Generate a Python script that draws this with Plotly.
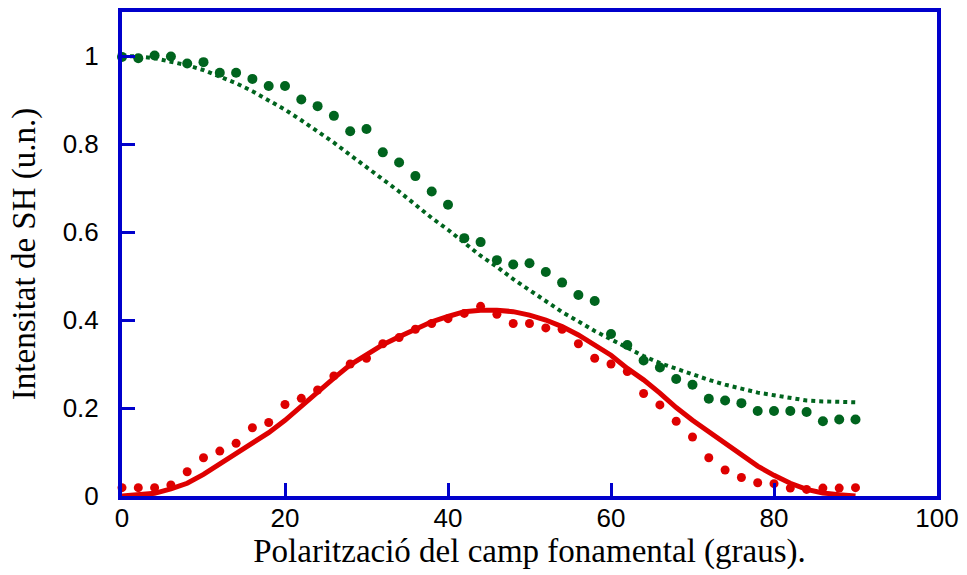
import plotly.graph_objects as go

# Polarization angle of the fundamental field (degrees)
angle = list(range(0, 91, 2))

# Measured SH intensity, parallel component (green)
sh_parallel = [0.998, 0.995, 1.001, 0.999, 0.983, 0.986, 0.962, 0.962, 0.948, 0.932,
               0.932, 0.901, 0.886, 0.864, 0.829, 0.834, 0.781, 0.758, 0.727, 0.692,
               0.662, 0.586, 0.577, 0.536, 0.526, 0.529, 0.509, 0.485, 0.457, 0.443,
               0.368, 0.343, 0.308, 0.292, 0.266, 0.253, 0.221, 0.217, 0.211, 0.193,
               0.193, 0.193, 0.191, 0.170, 0.174, 0.174]

# Measured SH intensity, crossed component (red)
sh_crossed = [0.019, 0.019, 0.019, 0.025, 0.055, 0.087, 0.102, 0.120, 0.155, 0.167,
              0.208, 0.222, 0.241, 0.273, 0.300, 0.313, 0.346, 0.360, 0.379, 0.392,
              0.403, 0.415, 0.431, 0.413, 0.392, 0.392, 0.382, 0.379, 0.346, 0.313,
              0.300, 0.283, 0.233, 0.207, 0.170, 0.134, 0.087, 0.059, 0.042, 0.030,
              0.028, 0.018, 0.015, 0.018, 0.018, 0.019]

# Theoretical curves
fit_parallel = [1.000, 0.999, 0.995, 0.988, 0.979, 0.968, 0.954, 0.938, 0.920, 0.899,
                0.878, 0.854, 0.829, 0.803, 0.775, 0.748, 0.719, 0.692, 0.662, 0.632,
                0.605, 0.576, 0.546, 0.521, 0.493, 0.468, 0.443, 0.418, 0.397, 0.375,
                0.356, 0.336, 0.318, 0.302, 0.289, 0.276, 0.264, 0.253, 0.243, 0.235,
                0.229, 0.223, 0.217, 0.215, 0.214, 0.213]

fit_crossed = [0.000, 0.002, 0.006, 0.016, 0.029, 0.049, 0.073, 0.096, 0.119, 0.144,
               0.172, 0.205, 0.238, 0.268, 0.298, 0.322, 0.344, 0.362, 0.379, 0.396,
               0.408, 0.419, 0.422, 0.422, 0.419, 0.411, 0.400, 0.385, 0.366, 0.344,
               0.320, 0.290, 0.264, 0.234, 0.201, 0.172, 0.146, 0.119, 0.092, 0.068,
               0.047, 0.029, 0.015, 0.007, 0.003, 0.000]

x_ticks = [0, 20, 40, 60, 80, 100]
y_ticks = [0, 0.2, 0.4, 0.6, 0.8, 1]

GREEN = "rgb(0,100,30)"
RED = "rgb(222,0,0)"
BLUE = "rgb(0,0,204)"

fig = go.Figure()

fig.add_trace(go.Scatter(x=angle, y=fit_crossed, mode="lines",
                         line=dict(color=RED, width=5), cliponaxis=False))
fig.add_trace(go.Scatter(x=angle, y=sh_crossed, mode="markers",
                         marker=dict(color=RED, size=9), cliponaxis=False))
fig.add_trace(go.Scatter(x=angle, y=sh_parallel, mode="markers",
                         marker=dict(color=GREEN, size=10), cliponaxis=False))
fig.add_trace(go.Scatter(x=angle, y=fit_parallel, mode="lines",
                         line=dict(color=GREEN, width=4, dash="4px,4px"),
                         cliponaxis=False))

axis_common = dict(
    showline=True, mirror=True, linecolor=BLUE, linewidth=4,
    ticks="inside", ticklen=13, tickwidth=3, tickcolor=BLUE,
    showgrid=False, zeroline=False,
    tickfont=dict(family="Liberation Sans, Arial, sans-serif", size=26, color="black"),
)

fig.update_xaxes(range=[0, 100], tickvals=x_ticks,
                 ticktext=[str(v) for v in x_ticks],
                 ticklabelstandoff=-4,
                 title=dict(text="Polarització del camp fonamental (graus).",
                            font=dict(family="Liberation Serif, Times New Roman, serif",
                                      size=33, color="black"),
                            standoff=8),
                 **axis_common)
fig.update_yaxes(range=[0, 1.1], tickvals=y_ticks,
                 ticktext=["0", "0.2", "0.4", "0.6", "0.8", "1"],
                 ticklabelstandoff=14,
                 title=dict(text="Intensitat de SH (u.n.)",
                            font=dict(family="Liberation Serif, Times New Roman, serif",
                                      size=33, color="black"),
                            standoff=18),
                 **axis_common)

fig.update_layout(
    width=967, height=575,
    margin=dict(l=122, r=29, t=8, b=79),
    plot_bgcolor="white", paper_bgcolor="white",
    showlegend=False,
)

fig.write_html("out.html")
